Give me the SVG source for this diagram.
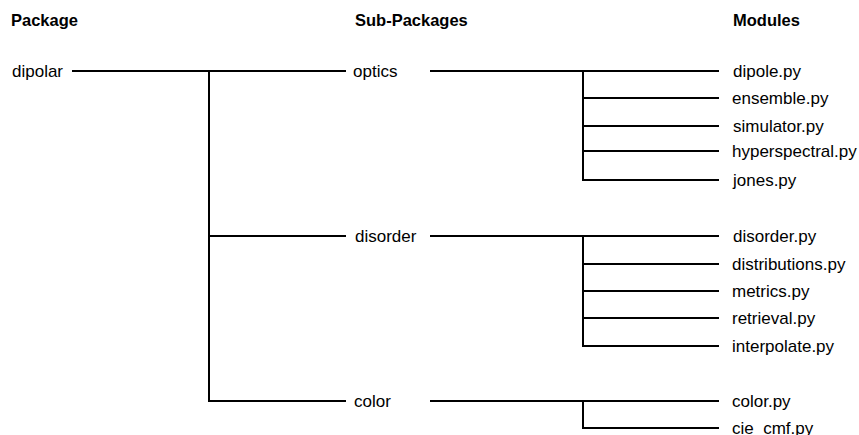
<svg xmlns="http://www.w3.org/2000/svg" width="859" height="435" viewBox="0 0 859 435">
<style>
text{font-family:"Liberation Sans",Arial,sans-serif;font-size:17px;fill:#000}
.h{font-weight:bold;font-size:16.5px}
.c line{stroke:#000;stroke-width:2;stroke-linecap:butt}
</style>
<rect width="859" height="435" fill="#fff"/>
<g id="headers">
<text class="h" x="11" y="26">Package</text>
<text class="h" x="355" y="26">Sub-Packages</text>
<text class="h" x="733" y="26">Modules</text>
</g>
<g class="c" id="connectors">
<line x1="72" y1="71" x2="346" y2="71"/>
<line x1="209" y1="70" x2="209" y2="402"/>
<line x1="209" y1="236" x2="346" y2="236"/>
<line x1="209" y1="401" x2="346" y2="401"/>
<line x1="430" y1="71" x2="719" y2="71"/>
<line x1="583" y1="70" x2="583" y2="181"/>
<line x1="583" y1="98" x2="719" y2="98"/>
<line x1="583" y1="126" x2="719" y2="126"/>
<line x1="583" y1="151" x2="719" y2="151"/>
<line x1="583" y1="180" x2="719" y2="180"/>
<line x1="430" y1="236" x2="719" y2="236"/>
<line x1="583" y1="235" x2="583" y2="347"/>
<line x1="583" y1="264" x2="719" y2="264"/>
<line x1="583" y1="291" x2="719" y2="291"/>
<line x1="583" y1="318" x2="719" y2="318"/>
<line x1="583" y1="346" x2="719" y2="346"/>
<line x1="430" y1="401" x2="719" y2="401"/>
<line x1="583" y1="400" x2="583" y2="429"/>
<line x1="583" y1="428" x2="719" y2="428"/>
</g>
<g id="n-dipolar"><text x="12" y="77">dipolar</text></g>
<g id="n-optics"><text x="353" y="77">optics</text></g>
<g id="n-disorder"><text x="355" y="242">disorder</text></g>
<g id="n-color"><text x="354" y="407">color</text></g>
<g id="n-dipole"><text x="733" y="77">dipole.py</text></g>
<g id="n-ensemble"><text x="732" y="104">ensemble.py</text></g>
<g id="n-simulator"><text x="733" y="132">simulator.py</text></g>
<g id="n-hyperspectral"><text x="732" y="157">hyperspectral.py</text></g>
<g id="n-jones"><text x="733" y="186">jones.py</text></g>
<g id="n-disorderpy"><text x="733" y="242">disorder.py</text></g>
<g id="n-distributions"><text x="732" y="270">distributions.py</text></g>
<g id="n-metrics"><text x="732" y="297">metrics.py</text></g>
<g id="n-retrieval"><text x="732" y="324">retrieval.py</text></g>
<g id="n-interpolate"><text x="732" y="352">interpolate.py</text></g>
<g id="n-colorpy"><text x="732" y="407">color.py</text></g>
<g id="n-ciecmf"><text x="732" y="434">cie_cmf.py</text></g>
</svg>
